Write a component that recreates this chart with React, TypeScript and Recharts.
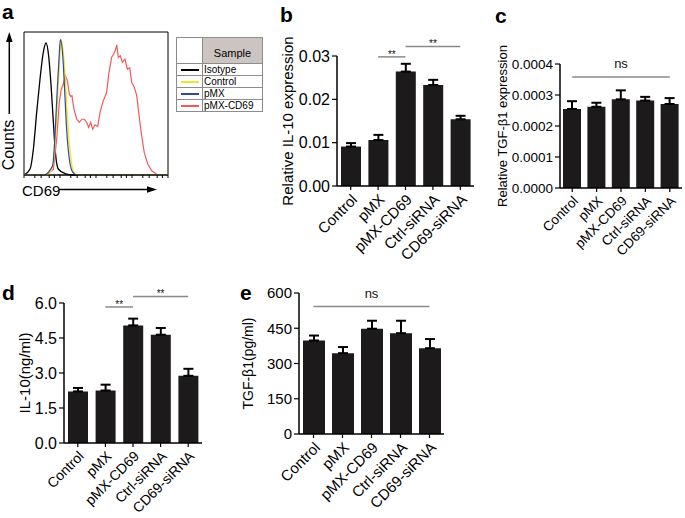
import React from 'react'
import {
  BarChart,
  Bar,
  XAxis,
  YAxis,
  ErrorBar,
  ReferenceLine,
  LineChart,
  Line,
  ReferenceArea,
} from 'recharts'

const FONT = '"Liberation Sans", Arial, sans-serif'

// groups shared by panels b-e
const groups = ['Control', 'pMX', 'pMX-CD69', 'Ctrl-siRNA', 'CD69-siRNA']

// b - relative IL-10 expression (mean, SEM)
const il10Rel = [0.0091, 0.0106, 0.0264, 0.0233, 0.0154]
const il10RelSem = [0.0008, 0.0012, 0.0018, 0.0012, 0.0008]
// c - relative TGF-b1 expression
const tgfRel = [0.000255, 0.000262, 0.000286, 0.000282, 0.000271]
const tgfRelSem = [0.000025, 0.000013, 0.000029, 0.000012, 0.000019]
// d - IL-10 (ng/ml)
const il10Conc = [2.21, 2.25, 5.04, 4.64, 2.88]
const il10ConcSem = [0.15, 0.25, 0.29, 0.29, 0.3]
// e - TGF-b1 (pg/ml)
const tgfConc = [398, 344, 448, 429, 365]
const tgfConcSem = [21, 26, 34, 53, 39]

// a - flow histograms, [channel (0-100 across 4 decades), % of max]
const isotypeCurve = [
  [0, 0], [4.2, 4.2], [6.5, 18], [8.8, 43.8], [11.1, 67], [13.4, 85.8], [15.3, 92.3],
  [17.1, 83.4], [18.8, 62.5], [20.4, 36.8], [21.8, 15.8], [23.8, 4.2], [28.5, 1], [34, 0], [100, 0],
]
const controlCurve = [
  [0, 0], [16.9, 0.5], [20.4, 8.9], [22.2, 32], [23.6, 60], [24.8, 81], [25.9, 94.6], [27.3, 85.8],
  [28.7, 67], [30.1, 41.5], [31.9, 18], [33.8, 4.2], [36.1, 0.5], [40, 0], [100, 0],
]
const pmxCurve = [
  [0, 0], [13.4, 0], [19.9, 6.5], [21.5, 27.5], [23.1, 60], [24.3, 81], [25.2, 94.6], [26.9, 83.4],
  [28.2, 60], [29.6, 32], [31.5, 11], [33.8, 2], [36.5, 0], [100, 0],
]
const pmxCd69Curve = [
  [0, 0], [15.8, 0], [20.4, 4], [22.7, 25], [24.5, 50.8], [25.9, 60], [27.3, 63.6], [28.7, 69.5],
  [30.1, 66], [31.5, 56.6], [32.4, 55], [33.3, 55.5], [34.7, 46], [36.6, 39], [38.4, 36.8],
  [40.3, 39], [41.9, 39], [43.5, 36.8], [44.9, 33.3], [46.3, 36.8], [47.7, 32], [49.3, 35],
  [51.2, 34], [52.8, 43.8], [55.1, 52], [57.4, 57.8], [59, 71.8], [60.9, 82.3], [62.3, 84.6],
  [63.7, 88.1], [64.4, 91], [65.5, 82.3], [66.9, 83.4], [68.3, 78.8], [70.1, 81], [71.8, 74],
  [73.4, 75], [74.8, 64.8], [76.6, 61.3], [78.3, 55.5], [79.9, 41.5], [81.7, 27.5], [83.5, 15.8],
  [85.9, 7.7], [88.7, 3], [92.2, 0.5], [94.4, 0], [100, 0],
]
const decades = [0, 25, 50, 75]
const minorSteps = [7.5, 11.9, 15.1, 17.5, 19.5, 21.1, 22.6, 23.9]
const flowTicks = decades.flatMap((d) => [d, ...minorSteps.map((m) => d + m)]).concat(100)

const legendItems = [
  { name: 'Isotype', key: 'iso', color: '#000000' },
  { name: 'Control', key: 'ctl', color: '#ece62e' },
  { name: 'pMX', key: 'pmx', color: '#34489a' },
  { name: 'pMX-CD69', key: 'cd69', color: '#f25a5a' },
]

const flowRows = [
  ...isotypeCurve.map(([x, y]) => ({ x, iso: y })),
  ...pmxCd69Curve.map(([x, y]) => ({ x, cd69: y })),
  ...controlCurve.map(([x, y]) => ({ x, ctl: y })),
  ...pmxCurve.map(([x, y]) => ({ x, pmx: y })),
].sort((a, b) => a.x - b.x)

const toRows = (means: number[], sems: number[]) =>
  groups.map((name, i) => ({ name, value: means[i], err: [0, sems[i]] }))

interface Sig {
  from: string
  to: string
  y: number
  text: string
  size: number
  offset: number
}

interface BarPanelProps {
  left: number
  top: number
  width: number
  height: number
  marginTop: number
  marginRight: number
  yWidth: number
  xHeight: number
  rows: any[]
  domain: [number, number]
  ticks: number[]
  fmt: (v: number) => string
  tickSize: number
  catSize: number
  yLabel: string
  yLabelSize: number
  yLabelX: number
  barSize: number
  sigs: Sig[]
}

function BarPanel(p: BarPanelProps) {
  return (
    <div style={{ position: 'absolute', left: p.left, top: p.top }}>
      <BarChart
        width={p.width}
        height={p.height}
        data={p.rows}
        barSize={p.barSize}
        margin={{ top: p.marginTop, right: p.marginRight, left: 0, bottom: 0 }}
      >
        <XAxis
          dataKey="name"
          interval={0}
          height={p.xHeight}
          axisLine={{ stroke: '#000', strokeWidth: 1.5 }}
          tickLine={{ stroke: '#000', strokeWidth: 1.2 }}
          tickSize={4}
          tickMargin={3}
          tick={{ angle: -45, textAnchor: 'end', fontSize: p.catSize, fill: '#000', fontFamily: FONT }}
        />
        <YAxis
          width={p.yWidth}
          domain={p.domain}
          ticks={p.ticks}
          tickFormatter={p.fmt}
          axisLine={{ stroke: '#000', strokeWidth: 1.5 }}
          tickLine={{ stroke: '#000', strokeWidth: 1.2 }}
          tickSize={5}
          tickMargin={2}
          tick={{ fontSize: p.tickSize, fill: '#000', fontFamily: FONT }}
          label={{
            value: p.yLabel,
            angle: -90,
            position: 'insideLeft',
            offset: p.yLabelX,
            style: { textAnchor: 'middle', fontSize: p.yLabelSize, fill: '#000', fontFamily: FONT },
          }}
        />
        <Bar dataKey="value" fill="#1c1a1a" isAnimationActive={false}>
          <ErrorBar dataKey="err" width={5} strokeWidth={2} stroke="#000" />
        </Bar>
        {p.sigs.map((s, i) => (
          <ReferenceLine
            key={i}
            ifOverflow="visible"
            segment={[{ x: s.from, y: s.y }, { x: s.to, y: s.y }]}
            stroke="#8a8a8a"
            strokeWidth={1.5}
            label={{ value: s.text, position: 'top', offset: s.offset, fontSize: s.size, fill: '#111', fontFamily: FONT }}
          />
        ))}
      </BarChart>
    </div>
  )
}

function FlowPanel() {
  return (
    <div style={{ position: 'absolute', left: 0, top: 0 }}>
      <LineChart width={175} height={181} data={flowRows} margin={{ top: 32, right: 7, left: 24, bottom: 0 }}>
        <XAxis
          type="number"
          dataKey="x"
          domain={[0, 100]}
          ticks={flowTicks}
          tickFormatter={() => ''}
          height={6}
          tickSize={3}
          axisLine={{ stroke: '#000' }}
          tickLine={{ stroke: '#000' }}
        />
        <YAxis hide domain={[0, 100]} />
        <ReferenceArea x1={0} x2={100} y1={0} y2={100} fill="none" stroke="#000" strokeWidth={1} />
        <Line dataKey="iso" type="monotone" stroke="#000" strokeWidth={1.3} dot={false} connectNulls isAnimationActive={false} />
        <Line dataKey="cd69" type="linear" stroke="#f25a5a" strokeWidth={1.2} dot={false} connectNulls isAnimationActive={false} />
        <Line dataKey="ctl" type="monotone" stroke="#ece62e" strokeWidth={1.3} dot={false} connectNulls isAnimationActive={false} />
        <Line dataKey="pmx" type="monotone" stroke="#34489a" strokeWidth={1.2} dot={false} connectNulls isAnimationActive={false} />
      </LineChart>
    </div>
  )
}

function FlowLegend() {
  const cell = { border: '1px solid #8c8c8c', padding: 0 }
  return (
    <table
      style={{
        position: 'absolute',
        left: 176,
        top: 37,
        borderCollapse: 'collapse',
        fontFamily: FONT,
        fontSize: 10,
        lineHeight: '10px',
      }}
    >
      <tbody>
        <tr style={{ height: 26 }}>
          <td style={{ ...cell, width: 25 }} />
          <td style={{ ...cell, width: 59, background: '#cbc4c1', textAlign: 'center', fontSize: 11, paddingTop: 4 }}>
            Sample
          </td>
        </tr>
        {legendItems.map((s) => (
          <tr key={s.key} style={{ height: 12 }}>
            <td style={cell}>
              <div style={{ width: 18, height: 2, background: s.color, margin: '0 auto' }} />
            </td>
            <td style={{ ...cell, paddingLeft: 1 }}>{s.name}</td>
          </tr>
        ))}
      </tbody>
    </table>
  )
}

export default function App() {
  return (
    <div
      style={{
        position: 'absolute',
        left: 0,
        top: 0,
        width: 685,
        height: 518,
        background: '#fff',
        fontFamily: FONT,
        overflow: 'hidden',
      }}
    >
      <FlowPanel />
      <FlowLegend />
      <BarPanel
        left={240}
        top={0}
        width={240}
        height={270}
        marginTop={56}
        marginRight={6}
        yWidth={97}
        xHeight={84}
        rows={toRows(il10Rel, il10RelSem)}
        domain={[0, 0.03]}
        ticks={[0, 0.01, 0.02, 0.03]}
        fmt={(v) => v.toFixed(2)}
        tickSize={16}
        catSize={15}
        yLabel="Relative IL-10 expression"
        yLabelSize={15}
        yLabelX={48}
        barSize={20}
        sigs={[
          { from: 'pMX', to: 'pMX-CD69', y: 0.0298, text: '**', size: 10, offset: -1 },
          { from: 'pMX-CD69', to: 'CD69-siRNA', y: 0.0322, text: '**', size: 10, offset: -1 },
        ]}
      />
      <BarPanel
        left={460}
        top={0}
        width={225}
        height={270}
        marginTop={64}
        marginRight={3}
        yWidth={100}
        xHeight={82}
        rows={toRows(tgfRel, tgfRelSem)}
        domain={[0, 0.0004]}
        ticks={[0, 0.0001, 0.0002, 0.0003, 0.0004]}
        fmt={(v) => v.toFixed(4)}
        tickSize={13.5}
        catSize={13.5}
        yLabel="Relative TGF-β1 expression"
        yLabelSize={13}
        yLabelX={42}
        barSize={18}
        sigs={[{ from: 'Control', to: 'CD69-siRNA', y: 0.000358, text: 'ns', size: 13, offset: 9 }]}
      />
      <BarPanel
        left={0}
        top={250}
        width={240}
        height={268}
        marginTop={53}
        marginRight={38}
        yWidth={64}
        xHeight={75}
        rows={toRows(il10Conc, il10ConcSem)}
        domain={[0, 6]}
        ticks={[0, 1.5, 3, 4.5, 6]}
        fmt={(v) => v.toFixed(1)}
        tickSize={16}
        catSize={14}
        yLabel="IL-10(ng/ml)"
        yLabelSize={15}
        yLabelX={25}
        barSize={20}
        sigs={[
          { from: 'pMX', to: 'pMX-CD69', y: 5.83, text: '**', size: 10, offset: -1 },
          { from: 'pMX-CD69', to: 'CD69-siRNA', y: 6.28, text: '**', size: 10, offset: -1 },
        ]}
      />
      <BarPanel
        left={240}
        top={250}
        width={240}
        height={268}
        marginTop={43}
        marginRight={36}
        yWidth={59}
        xHeight={84}
        rows={toRows(tgfConc, tgfConcSem)}
        domain={[0, 600]}
        ticks={[0, 150, 300, 450, 600]}
        fmt={(v) => String(v)}
        tickSize={15}
        catSize={15}
        yLabel="TGF-β1(pg/ml)"
        yLabelSize={14}
        yLabelX={8}
        barSize={22}
        sigs={[{ from: 'Control', to: 'CD69-siRNA', y: 543, text: 'ns', size: 13, offset: 8 }]}
      />
      <svg
        width={685}
        height={518}
        style={{ position: 'absolute', left: 0, top: 0, pointerEvents: 'none' }}
        fontFamily={FONT}
      >
        <g fontWeight="bold" fontSize={21} fill="#000">
          <text x={2} y={19}>a</text>
          <text x={280} y={22}>b</text>
          <text x={495} y={23}>c</text>
          <text x={2} y={300}>d</text>
          <text x={240} y={300}>e</text>
        </g>
        <text x={13.5} y={145} fontSize={16} textAnchor="middle" transform="rotate(-90 13.5 145)">
          Counts
        </text>
        <line x1={9.3} y1={114} x2={9.3} y2={40} stroke="#000" strokeWidth={1.5} />
        <polygon points="9.3,32 6,42 12.6,42" fill="#000" />
        <text x={22} y={195.5} fontSize={15}>CD69</text>
        <line x1={59} y1={189.5} x2={149} y2={189.5} stroke="#000" strokeWidth={1.5} />
        <polygon points="157,189.5 147,186.2 147,192.8" fill="#000" />
      </svg>
    </div>
  )
}
